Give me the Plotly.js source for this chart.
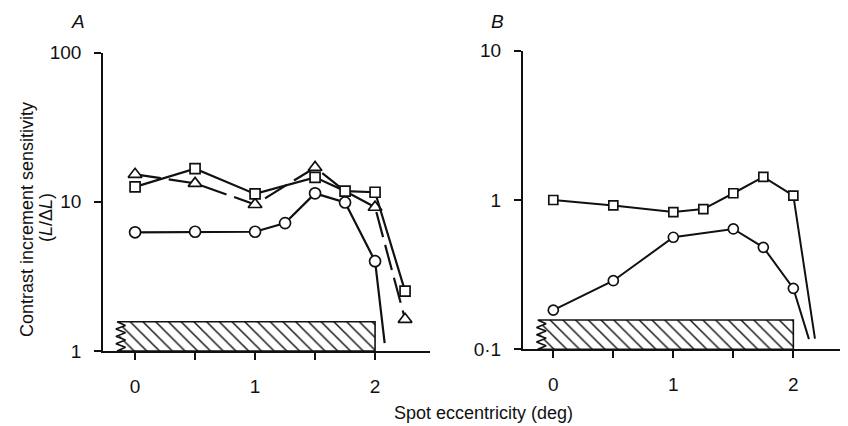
<!DOCTYPE html>
<html>
<head>
<meta charset="utf-8">
<script src="https://cdn.plot.ly/plotly-3.0.1.min.js"></script>
<style>
  html, body { margin: 0; padding: 0; background: #fff; }
  #chart { width: 848px; height: 426px; }
</style>
</head>
<body>
<div id="chart"></div>
<script>
// Spot eccentricity (deg)
const eccA = [0, 0.5, 1, 1.25, 1.5, 1.75, 2, 2.08];
const circlesA = [6.25, 6.3, 6.3, 7.2, 11.4, 9.9, 4.0, 1.13];

const eccSqA = [0, 0.5, 1, 1.5, 1.75, 2, 2.25];
const squaresA = [12.6, 16.7, 11.3, 14.6, 11.8, 11.6, 2.52];

const eccTriA = [0, 0.5, 1, 1.5, 1.75, 2, 2.25];
const trianglesA = [15.3, 13.3, 9.6, 17.0, 11.8, 9.2, 1.63];

const eccSqB = [0, 0.5, 1, 1.25, 1.5, 1.75, 2, 2.18];
const squaresB = [1.0, 0.92, 0.83, 0.87, 1.11, 1.43, 1.07, 0.118];

const eccCircB = [0, 0.5, 1, 1.5, 1.75, 2, 2.13];
const circlesB = [0.183, 0.288, 0.563, 0.64, 0.482, 0.256, 0.117];

// Hatched band: eccentricity extent and upper sensitivity bound
const bandA = { left: -0.15, right: 2, bottom: 1, top: 1.57 };
const bandB = { left: -0.13, right: 2, bottom: 0.1, top: 0.157 };

// Tick labels
const xTickVals = [0, 0.5, 1, 1.5, 2];
const xTickText = ['0', '', '1', '', '2'];
const yTickValsA = [1, 10, 100];
const yTickTextA = ['1', '10', '100'];
const yTickValsB = [0.1, 1, 10];
const yTickTextB = ['0·1', '1', '10'];

const FONT = 'Liberation Sans, Arial, sans-serif';
const INK = '#111';

// Band outline with a torn (wavy) left edge
function bandPath(b) {
  const xs = [], ys = [];
  const lb = Math.log10(b.bottom), lt = Math.log10(b.top);
  xs.push(b.left, b.right, b.right, b.left);
  ys.push(b.top, b.top, b.bottom, b.bottom);
  const n = 8;
  for (let i = 1; i < n; i++) {
    const t = i / n;
    const wobble = (i % 2 === 0 ? -0.01 : 0.07);
    xs.push(b.left + wobble);
    ys.push(Math.pow(10, lb + (lt - lb) * t));
  }
  xs.push(b.left); ys.push(b.top);
  return { xs, ys };
}

function bandTrace(b, xa, ya) {
  const p = bandPath(b);
  return {
    x: p.xs, y: p.ys, xaxis: xa, yaxis: ya,
    type: 'scatter', mode: 'lines', fill: 'toself',
    fillcolor: 'rgba(0,0,0,0)',
    fillpattern: { shape: '\\', size: 9, solidity: 0.16, fgcolor: INK, bgcolor: '#fff', fillmode: 'replace' },
    line: { color: INK, width: 1.6 },
    hoverinfo: 'skip', showlegend: false
  };
}

// Markers are hidden on points where the curve runs off the axis
function sizes(n, size, hidden) {
  return Array.from({ length: n }, (_, i) => hidden.includes(i) ? 0 : size);
}
function widths(n, w, hidden) {
  return Array.from({ length: n }, (_, i) => hidden.includes(i) ? 0 : w);
}

function series(x, y, symbol, size, lw, xa, ya, hidden, dash) {
  return {
    x, y, xaxis: xa, yaxis: ya, type: 'scatter', mode: 'lines+markers',
    line: { color: INK, width: lw, dash: dash || 'solid' },
    marker: {
      symbol, size: sizes(x.length, size, hidden), color: '#ffffff', opacity: 1,
      line: { color: INK, width: widths(x.length, 1.7, hidden) }
    },
    cliponaxis: true, showlegend: false, hoverinfo: 'skip'
  };
}

const traces = [
  bandTrace(bandA, 'x', 'y'),
  bandTrace(bandB, 'x2', 'y2'),
  series(eccTriA, trianglesA, 'triangle-up', 12, 2.2, 'x', 'y', [4], '26px,8px'),
  series(eccSqA, squaresA, 'square', 10, 2.2, 'x', 'y', []),
  series(eccA, circlesA, 'circle', 11, 2.2, 'x', 'y', [7]),
  series(eccSqB, squaresB, 'square', 9, 2, 'x2', 'y2', [7]),
  series(eccCircB, circlesB, 'circle', 10, 2, 'x2', 'y2', [6])
];

const xBase = {
  showgrid: false, zeroline: false, showline: true, linecolor: INK, linewidth: 1.8,
  ticks: 'outside', ticklen: 7, tickwidth: 1.8, tickcolor: INK,
  tickvals: xTickVals, ticktext: xTickText, ticklabelstandoff: 10,
  tickfont: { family: FONT, size: 19, color: INK }, fixedrange: true
};
const yBase = {
  type: 'log', showgrid: false, zeroline: false, showline: true, linecolor: INK, linewidth: 1.8,
  ticks: 'outside', ticklen: 7, tickwidth: 1.8, tickcolor: INK, ticklabelstandoff: 9,
  tickfont: { family: FONT, size: 19, color: INK }, fixedrange: true
};

const layout = {
  width: 848, height: 426,
  margin: { l: 0, r: 0, t: 0, b: 0 },
  paper_bgcolor: '#fff', plot_bgcolor: '#fff',
  showlegend: false,
  xaxis: Object.assign({}, xBase, { domain: [0.1215, 0.5071], range: [-0.267, 2.458], anchor: 'y' }),
  yaxis: Object.assign({}, yBase, { domain: [0.1761, 0.8763], range: [0, 2], anchor: 'x',
    tickvals: yTickValsA, ticktext: yTickTextA }),
  xaxis2: Object.assign({}, xBase, { domain: [0.6164, 0.9906], range: [-0.255, 2.389], anchor: 'y2' }),
  yaxis2: Object.assign({}, yBase, { domain: [0.18, 0.881], range: [-1, 1], anchor: 'x2',
    tickvals: yTickValsB, ticktext: yTickTextB }),
  annotations: [
    { text: '<i>A</i>', xref: 'paper', yref: 'paper', x: 78 / 848, y: 1 - 21.5 / 426,
      xanchor: 'center', yanchor: 'middle',
      showarrow: false, font: { family: FONT, size: 19, color: INK } },
    { text: '<i>B</i>', xref: 'paper', yref: 'paper', x: 497 / 848, y: 1 - 21.5 / 426,
      xanchor: 'center', yanchor: 'middle',
      showarrow: false, font: { family: FONT, size: 19, color: INK } },
    { text: 'Spot eccentricity (deg)', xref: 'paper', yref: 'paper', x: 483 / 848, y: 1 - 413 / 426,
      xanchor: 'center', yanchor: 'middle',
      showarrow: false, font: { family: FONT, size: 18, color: INK } },
    { text: 'Contrast increment sensitivity', xref: 'paper', yref: 'paper',
      x: 27 / 848, y: 1 - 220 / 426, xanchor: 'center', yanchor: 'middle', textangle: -90,
      showarrow: false, font: { family: FONT, size: 18, color: INK } },
    { text: '(<i>L</i>/Δ<i>L</i>)', xref: 'paper', yref: 'paper',
      x: 46 / 848, y: 1 - 218 / 426, xanchor: 'center', yanchor: 'middle', textangle: -90,
      showarrow: false, font: { family: FONT, size: 18, color: INK } }
  ]
};

Plotly.newPlot('chart', traces, layout, { staticPlot: true, displayModeBar: false });
</script>
</body>
</html>
